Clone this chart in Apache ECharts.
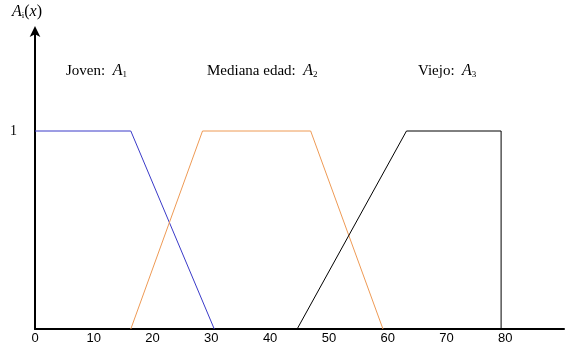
<!DOCTYPE html>
<html>
<head>
<meta charset="utf-8">
<script src="https://cdn.jsdelivr.net/npm/echarts@6/dist/echarts.min.js"></script>
<style>html,body{margin:0;padding:0;background:#fff}#c{width:567px;height:346px}</style>
</head>
<body>
<div id="c"></div>
<script>
var xTicks = [0, 10, 20, 30, 40, 50, 60, 70, 80];
var joven = [[0, 1], [16.3, 1], [30.5, 0]];
var mediana = [[16.3, 0], [28.5, 1], [46.9, 1], [59.2, 0]];
var viejo = [[44.6, 0], [63.2, 1], [79.3, 1], [79.3, 0]];
var labels = ['Joven:  ', 'Mediana edad:  ', 'Viejo:  '];
var subs = ['1', '2', '3'];

var chart = echarts.init(document.getElementById('c'), null, {renderer: 'canvas'});
var serif = '"Liberation Serif", "DejaVu Serif", serif';
var rich = {
  t: {fontFamily: serif, fontSize: 15, color: '#000'},
  a: {fontFamily: serif, fontSize: 16, fontStyle: 'italic', color: '#000'},
  s: {fontFamily: serif, fontSize: 9, color: '#000', padding: [8, 0, 0, 0]}
};
function lab(i, x, y) {
  return {type: 'text', left: x, top: y,
    style: {text: '{t|' + labels[i] + '}{a|A}{s|' + subs[i] + '}', rich: rich}};
}
chart.setOption({
  animation: false,
  backgroundColor: '#fff',
  grid: {left: 35, right: 1, top: 32, bottom: 17},
  xAxis: {
    type: 'value', min: 0, max: 90, interval: 10,
    axisLine: {lineStyle: {color: '#000', width: 2}},
    axisTick: {show: false},
    splitLine: {show: false},
    axisLabel: {
      margin: 3, color: '#000', fontSize: 13,
      fontFamily: '"Liberation Sans Narrow", "Liberation Sans", sans-serif',
      formatter: function (v) { return xTicks.indexOf(v) >= 0 ? String(v) : ''; }
    }
  },
  yAxis: {
    type: 'value', min: 0, max: 1.5, interval: 0.5,
    axisLine: {show: true, symbol: ['none', 'arrow'], symbolSize: [8, 11], symbolOffset: [0, 6],
      lineStyle: {color: '#000', width: 2}},
    axisTick: {show: false},
    splitLine: {show: false},
    axisLabel: {
      margin: 18, color: '#000', fontSize: 14, fontFamily: serif,
      formatter: function (v) { return v === 1 ? '1' : ''; }
    }
  },
  series: [
    {type: 'line', data: joven, symbol: 'none', lineStyle: {color: '#3a3ac8', width: 1}},
    {type: 'line', data: mediana, symbol: 'none', lineStyle: {color: '#ee9a55', width: 1}},
    {type: 'line', data: viejo, symbol: 'none', lineStyle: {color: '#000', width: 1}}
  ],
  graphic: [
    lab(0, 66, 63),
    lab(1, 207, 63),
    lab(2, 418, 63),
    {type: 'text', left: 12, top: 4,
      style: {text: '{a|A}{s|i}{t|(}{i|x}{t|)}', rich: {
        a: rich.a, s: rich.s, t: {fontFamily: serif, fontSize: 16, color: '#000'},
        i: {fontFamily: serif, fontSize: 16, fontStyle: 'italic', color: '#000'}
      }}}
  ]
});
</script>
</body>
</html>
